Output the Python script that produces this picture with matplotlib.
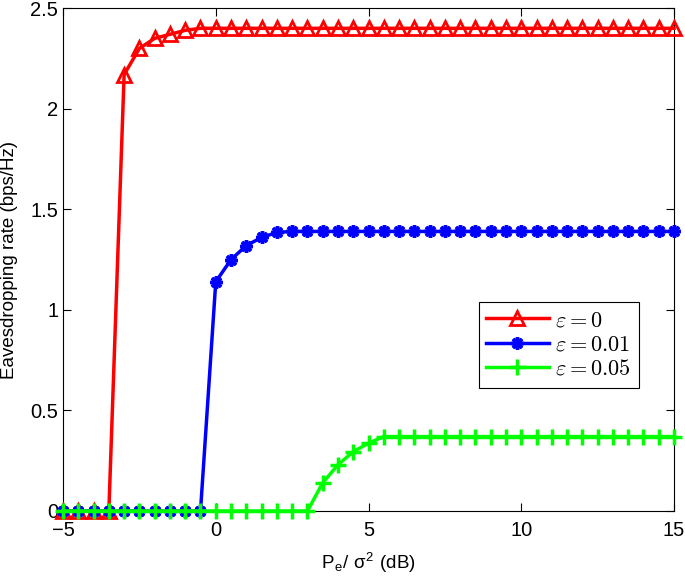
import matplotlib.pyplot as plt
import numpy as np

plt.rcParams['mathtext.fontset'] = 'cm'
plt.rcParams['font.family'] = ['Liberation Sans', 'DejaVu Sans']

# transmit power grid (dB), one point every 0.5 dB
snr_db = np.linspace(-5, 15, 41)

rate_eps0 = [0, 0, 0, 0,
             2.17, 2.30, 2.35, 2.37, 2.39, 2.40,
             2.40, 2.40, 2.40, 2.40, 2.40, 2.40, 2.40, 2.40, 2.40, 2.40,
             2.40, 2.40, 2.40, 2.40, 2.40, 2.40, 2.40, 2.40, 2.40, 2.40,
             2.40, 2.40, 2.40, 2.40, 2.40, 2.40, 2.40, 2.40, 2.40, 2.40,
             2.40]
rate_eps001 = [0, 0, 0, 0, 0, 0, 0, 0, 0, 0,
               1.14, 1.25, 1.32, 1.36, 1.385,
               1.39, 1.39, 1.39, 1.39, 1.39, 1.39, 1.39, 1.39, 1.39, 1.39,
               1.39, 1.39, 1.39, 1.39, 1.39, 1.39, 1.39, 1.39, 1.39, 1.39,
               1.39, 1.39, 1.39, 1.39, 1.39, 1.39]
rate_eps005 = [0, 0, 0, 0, 0, 0, 0, 0, 0, 0, 0, 0, 0, 0, 0, 0, 0,
               0.14, 0.23, 0.295, 0.337,
               0.37, 0.37, 0.37, 0.37, 0.37, 0.37, 0.37, 0.37, 0.37, 0.37,
               0.37, 0.37, 0.37, 0.37, 0.37, 0.37, 0.37, 0.37, 0.37, 0.37]

labels = [r'$\varepsilon = 0$', r'$\varepsilon = 0.01$', r'$\varepsilon = 0.05$']

fig = plt.figure(figsize=[6.85, 5.85], dpi=100)
ax = fig.add_axes([0.092, 0.1265, 0.892, 0.8595])

ax.plot(snr_db, rate_eps0, color=(1, 0, 0), lw=2.5, marker='^', ms=10,
        mfc='none', mew=2, clip_on=False, label=labels[0], zorder=3)
ax.plot(snr_db, rate_eps001, color=(0, 0, 1), lw=2.5, marker=(8, 2, 0), ms=9,
        mew=2.5, clip_on=False, label=labels[1], zorder=4)
ax.plot(snr_db, rate_eps005, color=(0, 1, 0), lw=2.5, marker='+', ms=11,
        mew=2.5, clip_on=False, label=labels[2], zorder=5)

ax.set_xlim(-5, 15)
ax.set_ylim(0, 2.5)
ax.set_xticks([-5, 0, 5, 10, 15])
ax.set_yticks([0, 0.5, 1, 1.5, 2, 2.5])
ax.set_xticklabels(['\u22125', '0', '5', '10', '15'])
ax.set_yticklabels(['0', '0.5', '1', '1.5', '2', '2.5'])
ax.tick_params(direction='in', top=True, right=True, length=6, width=0.8,
               labelsize=14.5)
ax.tick_params(axis='x', pad=7)
ax.tick_params(axis='y', pad=3.5)
for s in ax.spines.values():
    s.set_linewidth(0.8)

ax.set_xlabel('P$_{\\mathregular{e}}$/ \u03c3$^{\\mathregular{2}}$ (dB)',
              fontsize=13.5, labelpad=8)
ax.set_ylabel('Eavesdropping rate (bps/Hz)', fontsize=13.5, labelpad=9)

leg = ax.legend(loc='upper left', bbox_to_anchor=(0.68, 0.415), fontsize=16,
                fancybox=False, edgecolor='black', framealpha=1,
                handlelength=2.8, borderpad=0.35, labelspacing=0.15,
                handletextpad=0.3, borderaxespad=0)
leg.get_frame().set_linewidth(0.8)

fig.savefig('out.png', dpi=100)
